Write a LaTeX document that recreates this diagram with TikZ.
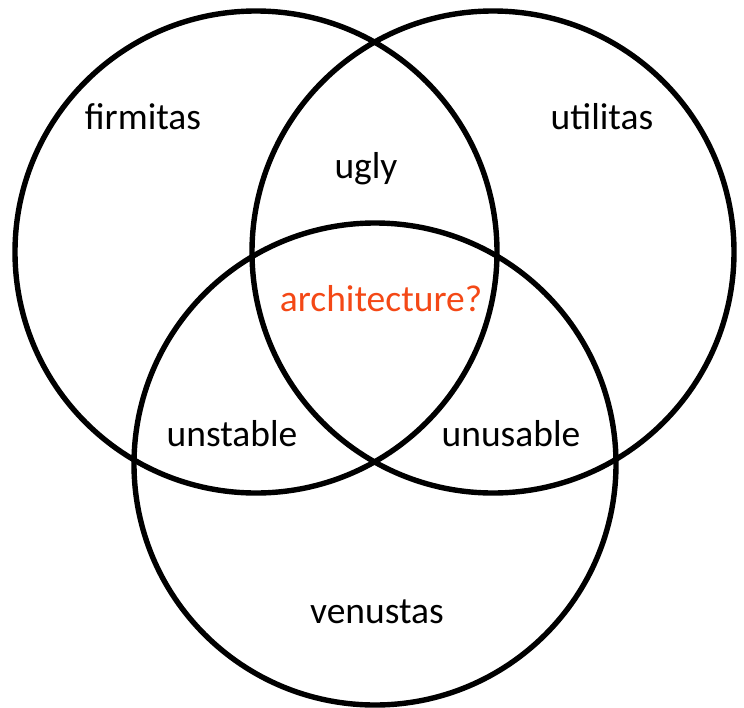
\documentclass[tikz,border=0pt]{standalone}
\usepackage{fontspec}
\setmainfont{Carlito}
\definecolor{archred}{RGB}{244,72,22}
\tikzset{
  ring/.style={draw=black, line width=5.4pt, circle, minimum size=482pt, inner sep=0pt},
  lbl/.style={anchor=base, inner sep=0pt, font=\fontsize{37.5}{42}\selectfont},
}
\begin{document}
\begin{tikzpicture}[x=1pt,y=-1pt]
\useasboundingbox[fill=white] (0,0) rectangle (744,707);
\node[ring] (c1) at (256,252) {};
\node[ring] (c2) at (493,252) {};
\node[ring] (c3) at (375,464) {};
\node[lbl] (firm) at (143,129) {firmitas};
\node[lbl] (util) at (602,129) {utilitas};
\node[lbl] (ugly) at (366,178) {ugly};
\node[lbl, text=archred] (arch) at (381,311) {architecture?};
\node[lbl] (unst) at (232,446) {unstable};
\node[lbl] (unus) at (511,446) {unusable};
\node[lbl] (venu) at (377,623) {venustas};
\end{tikzpicture}
\end{document}
